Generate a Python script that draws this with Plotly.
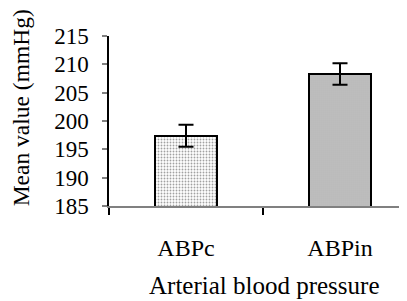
import plotly.graph_objects as go

categories = ["ABPc", "ABPin"]
means = [197.4, 208.3]
errors = [1.95, 1.9]
y_ticks = [185, 190, 195, 200, 205, 210, 215]

FONT = "Liberation Serif, Times New Roman, serif"

fig = go.Figure()
fig.add_trace(go.Bar(
    x=categories,
    y=means,
    width=0.405,
    marker=dict(
        color=["#ffffff", "#d8d8d8"],
        line=dict(color="black", width=2),
        pattern=dict(
            shape=[".", "."],
            fgcolor=["#a0a0a0", "#a4a4a4"],
            bgcolor=["#ffffff", "#e6e6e6"],
            size=[3, 2],
            solidity=[0.3, 0.4],
        ),
    ),
    error_y=dict(type="data", array=errors, color="black", thickness=2, width=7.5),
))

# page body has an 8px margin, so the figure is offset by (8, 8)
fig.update_layout(
    width=399, height=293,
    margin=dict(l=101, r=0, t=28, b=95),
    paper_bgcolor="white", plot_bgcolor="white",
    showlegend=False,
    font=dict(family=FONT, color="black"),
    bargap=0,
)
fig.update_xaxes(
    type="category",
    range=[-0.5, -0.5 + 298 / 154],
    tickson="boundaries",
    ticks="outside", ticklen=7, tickwidth=1.5, tickcolor="black",
    showline=True, linecolor="#808080", linewidth=2,
    showgrid=False, zeroline=False,
    tickfont=dict(family=FONT, size=24, color="black"),
    ticklabelstandoff=19,
)
fig.update_yaxes(
    range=[185, 215],
    tickvals=y_ticks,
    ticktext=[str(v) for v in y_ticks],
    ticks="outside", ticklen=5, tickwidth=1.5, tickcolor="#808080",
    showline=True, linecolor="black", linewidth=1.5,
    showgrid=False, zeroline=False,
    tickfont=dict(family=FONT, size=23, color="black"),
    ticklabelstandoff=9,
)
fig.add_annotation(
    text="Arterial blood pressure", xref="paper", yref="paper",
    x=0.52, y=-0.466, xanchor="center", yanchor="middle",
    showarrow=False, font=dict(family=FONT, size=25, color="black"),
)
fig.add_annotation(
    text="Mean value (mmHg)", xref="paper", yref="paper",
    x=-0.295, y=0.575, xanchor="center", yanchor="middle", textangle=-90,
    showarrow=False, font=dict(family=FONT, size=23.5, color="black"),
)

fig.write_html("out.html")
